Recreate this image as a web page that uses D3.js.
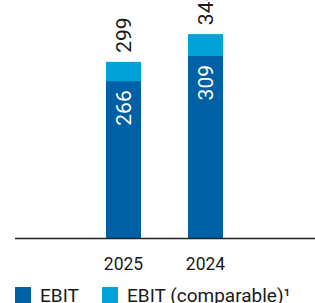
<!DOCTYPE html>
<html>
<head>
<meta charset="utf-8">
<script src="https://cdn.jsdelivr.net/npm/d3@7"></script>
<style>
  html, body { margin: 0; padding: 0; background: #fff; }
  svg { display: block; font-family: Roboto, "DejaVu Sans", sans-serif; }
</style>
</head>
<body>
<svg id="chart" width="315" height="303"></svg>
<script>
// chart data
var years = ['2025', '2024'];
var ebit = [266, 309];
var ebitComparable = [299, 346];
var legendLabels = ['EBIT', 'EBIT (comparable)\u00b9'];
var colors = ['#0060a6', '#00a3d9'];

var svg = d3.select('#chart');
var baseY = 238;

var x = d3.scalePoint()
  .domain(years)
  .range([123.5, 205.5]);

var y = d3.scaleLinear()
  .domain([0, 404])
  .range([baseY, 0]);

var barW = 35;

var rows = years.map(function(yr, i) {
  return { year: yr, ebit: ebit[i], comp: ebitComparable[i] };
});

// comparable bar behind, ebit bar in front
var bars = svg.append('g');

bars.selectAll('.comp')
  .data(rows)
  .enter().append('rect')
  .attr('class', 'comp')
  .attr('x', function(d) { return x(d.year) - barW / 2; })
  .attr('width', barW)
  .attr('y', function(d) { return y(d.comp); })
  .attr('height', function(d) { return baseY - y(d.comp); })
  .attr('fill', colors[1]);

bars.selectAll('.ebit')
  .data(rows)
  .enter().append('rect')
  .attr('class', 'ebit')
  .attr('x', function(d) { return x(d.year) - barW / 2; })
  .attr('width', barW)
  .attr('y', function(d) { return y(d.ebit); })
  .attr('height', function(d) { return baseY - y(d.ebit); })
  .attr('fill', colors[0]);

// value labels, rotated
var labels = svg.append('g').attr('font-size', 21);

labels.selectAll('.lblComp')
  .data(rows)
  .enter().append('text')
  .attr('transform', function(d) {
    return 'translate(' + x(d.year) + ',' + (y(d.comp) - 9) + ') rotate(-90)';
  })
  .attr('text-anchor', 'start')
  .attr('dy', '0.36em')
  .attr('fill', '#1a1a1a')
  .text(function(d) { return d.comp; });

labels.selectAll('.lblEbit')
  .data(rows)
  .enter().append('text')
  .attr('transform', function(d) {
    return 'translate(' + x(d.year) + ',' + (y(d.ebit) + 9) + ') rotate(-90)';
  })
  .attr('text-anchor', 'end')
  .attr('dy', '0.36em')
  .attr('fill', '#fff')
  .text(function(d) { return d.ebit; });

// baseline
svg.append('line')
  .attr('x1', 15).attr('x2', 315)
  .attr('y1', baseY + 0.5).attr('y2', baseY + 0.5)
  .attr('stroke', '#222')
  .attr('stroke-width', 1.3);

// year labels
svg.append('g').selectAll('text')
  .data(years)
  .enter().append('text')
  .attr('x', function(d) { return x(d); })
  .attr('y', 269.5)
  .attr('text-anchor', 'middle')
  .attr('font-size', 17.5)
  .attr('fill', '#1a1a1a')
  .text(function(d) { return d; });

// legend
var legX = [15, 102];
var legend = svg.append('g').selectAll('g')
  .data(legendLabels)
  .enter().append('g')
  .attr('transform', function(d, i) { return 'translate(' + legX[i] + ',287)'; });

legend.append('rect')
  .attr('width', 16)
  .attr('height', 16)
  .attr('fill', function(d, i) { return colors[i]; });

legend.append('text')
  .attr('x', 25)
  .attr('y', 15)
  .attr('font-size', 19)
  .attr('fill', '#1a1a1a')
  .text(function(d) { return d; });
</script>
</body>
</html>
